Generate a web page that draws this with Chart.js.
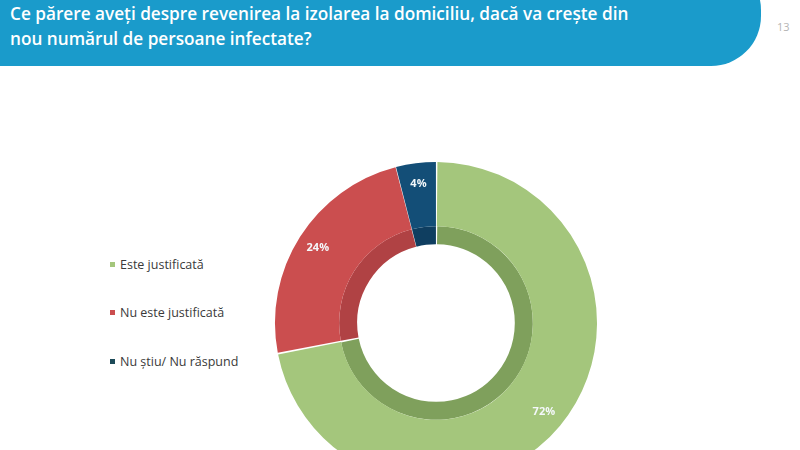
<!DOCTYPE html>
<html>
<head>
<meta charset="utf-8">
<script src="https://cdn.jsdelivr.net/npm/chart.js@4/dist/chart.umd.min.js"></script>
<style>
  html,body{margin:0;padding:0;width:800px;height:450px;overflow:hidden;background:#fff;}
  #banner{position:absolute;left:0;top:-40px;width:761px;height:106px;background:#1a9bcb;border-radius:0 50px 50px 0;}
  #title{position:absolute;left:10px;top:1px;color:#fff;font-family:"Open Sans",sans-serif;font-weight:600;font-size:17.2px;line-height:25px;white-space:nowrap;}
  #page{position:absolute;left:777px;top:19px;color:#b4b4b4;font-family:"Open Sans",sans-serif;font-size:11px;}
  #legend{position:absolute;left:110px;top:0;font-family:"Open Sans",sans-serif;font-size:12.5px;color:#3a3a3a;}
  .li{position:absolute;white-space:nowrap;left:0;}
  .sw{display:inline-block;width:5px;height:5px;margin-right:5px;vertical-align:middle;position:relative;top:-1px;}
  #wrap{position:absolute;left:261px;top:148px;width:350px;height:350px;}
</style>
</head>
<body>
<div id="banner"></div>
<div id="title">Ce părere aveți despre revenirea la izolarea la domiciliu, dacă va crește din<br>nou numărul de persoane infectate?</div>
<div id="page">13</div>
<div id="legend"></div>
<div id="wrap"><canvas id="c"></canvas></div>
<script>
const categories = ["Este justificată", "Nu este justificată", "Nu știu/ Nu răspund"];
const values = [72, 24, 4];
const valueLabels = ["72%", "24%", "4%"];
const mainColors = ["#a4c67c", "#cb4e4f", "#134e77"];
const ringColors = ["#7fa05c", "#b04244", "#0f3e60"];
const legendColors = ["#a4c67c", "#cb4e4f", "#1c4a58"];

// HTML legend from the arrays
const legendTops = [265, 313, 362];
const leg = document.getElementById('legend');
categories.forEach((c, i) => {
  const d = document.createElement('div');
  d.className = 'li';
  d.style.top = (legendTops[i] - 9) + 'px';
  d.innerHTML = '<span class="sw" style="background:' + legendColors[i] + '"></span>' + c;
  leg.appendChild(d);
});

const labelPlugin = {
  id: 'sliceLabels',
  afterDatasetsDraw(chart) {
    const meta = chart.getDatasetMeta(0);
    const ctx = chart.ctx;
    ctx.save();
    ctx.fillStyle = '#f4f8fb';
    ctx.font = 'bold 11px "Open Sans", sans-serif';
    ctx.textAlign = 'center';
    ctx.textBaseline = 'middle';
    meta.data.forEach((arc, i) => {
      const p = arc.getProps(['x','y','startAngle','endAngle','innerRadius','outerRadius'], true);
      const a = (p.startAngle + p.endAngle) / 2;
      const r = p.innerRadius + (p.outerRadius - p.innerRadius) * 0.68;
      ctx.fillText(valueLabels[i], p.x + Math.cos(a) * r, p.y + Math.sin(a) * r);
    });
    ctx.restore();
  }
};

new Chart(document.getElementById('c'), {
  type: 'doughnut',
  data: {
    labels: categories,
    datasets: [
      { data: values, backgroundColor: mainColors, borderWidth: 0, spacing: 1, weight: 64 },
      { data: values, backgroundColor: ringColors, borderWidth: 0, spacing: 1, weight: 18 }
    ]
  },
  options: {
    responsive: true,
    maintainAspectRatio: false,
    animation: false,
    cutout: '48.8%',
    layout: { padding: 14 },
    plugins: { legend: { display: false }, tooltip: { enabled: false } },
    events: []
  },
  plugins: [labelPlugin]
});
</script>
</body>
</html>
